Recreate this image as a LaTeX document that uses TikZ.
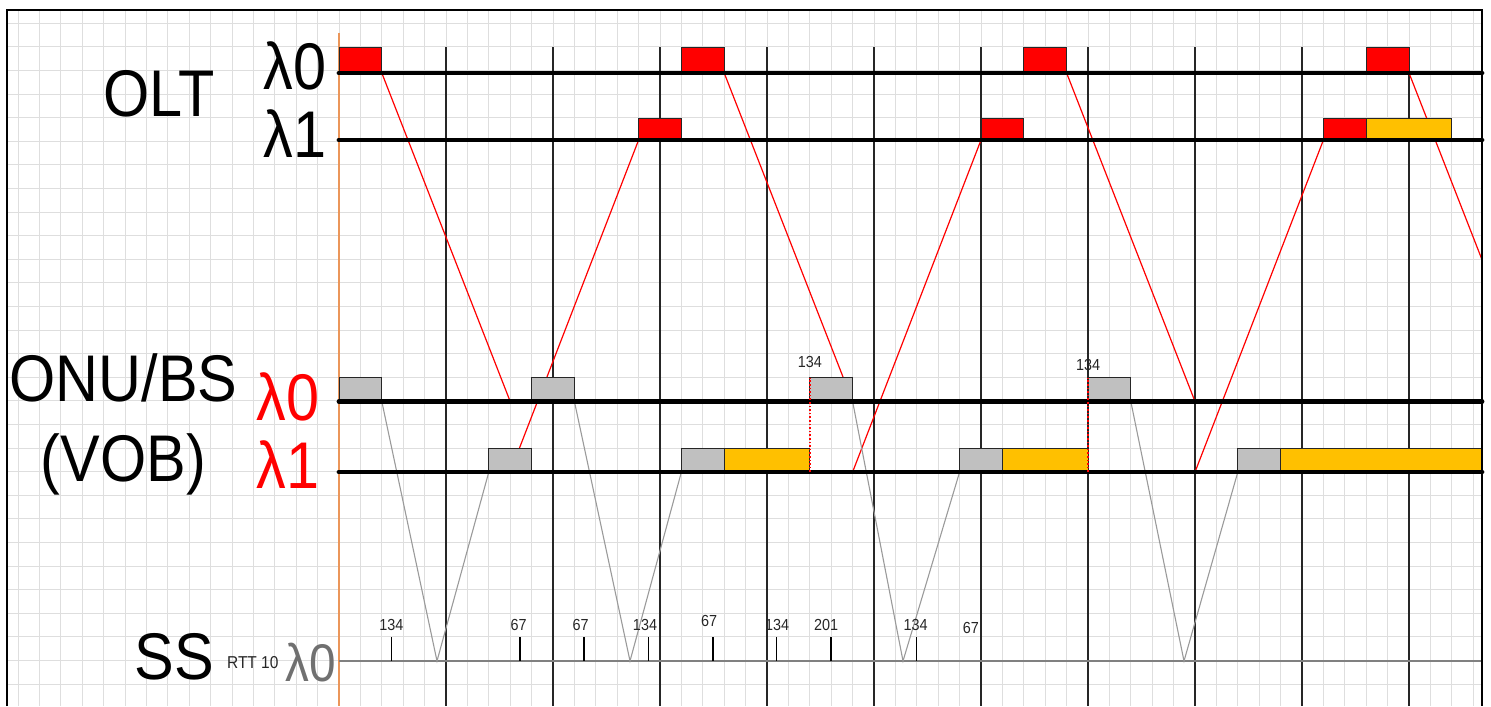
\documentclass[tikz,border=0pt]{standalone}
\usepackage{fontspec}
\setmainfont{Liberation Sans}[FakeStretch=0.9]
\usetikzlibrary{positioning}
\definecolor{slotgray}{HTML}{C0C0C0}
\definecolor{slotorange}{HTML}{FFC000}
\definecolor{gridgray}{HTML}{DEDEDE}
\definecolor{originorange}{RGB}{235,150,90}
\definecolor{airgray}{HTML}{9A9A9A}
\definecolor{ssgray}{HTML}{707070}
\pgfdeclarelayer{bg}
\pgfsetlayers{bg,main}

\begin{document}
\begin{tikzpicture}[x=0.5pt, y=-0.5pt,
  slot/.style={draw=black!85, line width=0.5pt, inner sep=0pt, outer sep=0pt, anchor=south west,
    minimum width=21.4pt, minimum height=12pt},
  grantbox/.style={slot, fill=red},
  reportbox/.style={slot, fill=slotgray},
  databox/.style={slot, fill=slotorange, minimum width=42.8pt},
  fiber/.style={line width=2.4pt, line cap=round},
  dnlink/.style={red, line width=0.6pt},
  airlink/.style={airgray, line width=0.55pt},
  biglabel/.style={inner sep=0pt, font=\fontsize{33}{36}\selectfont},
  smalllabel/.style={inner sep=0pt, anchor=base, text=black!85, font=\fontsize{8}{9}\selectfont}]
  \useasboundingbox (0,0) rectangle (1491,706);

  \foreach \j/\n in {0/a,16/b,32/c,48/d}
    \node[grantbox, minimum height=12.85pt] (o0\n) at ({339+21.4*\j},73) {};
  \foreach \j/\n in {14/a,30/b,46/c}
    \node[grantbox, minimum height=11pt] (o1\n) at ({339+21.4*\j},140) {};
  \node[databox, minimum height=11pt] (o1d) at (o1c.south east) {};
  \foreach \j/\n in {0/a,9/b,22/c,35/d}
    \node[reportbox] (n0\n) at ({339+21.4*\j},401.5) {};
  \foreach \j/\n in {7/a,16/b,29/c,42/d}
    \node[reportbox] (n1\n) at ({339+21.4*\j},472) {};
  \node[databox] (n1bd) at (n1b.south east) {};
  \node[databox] (n1cd) at (n1c.south east) {};
  \node[databox, minimum width=100.7pt] (n1dd) at (n1d.south east) {};

  \begin{pgfonlayer}{bg}
    \clip (7,10) rectangle (1482,706);
    \foreach \j in {-15,...,53}
      \draw[gridgray, line width=0.5pt] ({339+21.4*\j},10) -- ({339+21.4*\j},706);
    \foreach \k in {1,...,29}
      \draw[gridgray, line width=0.5pt] (7,{23.6*\k-0.3}) -- (1482,{23.6*\k-0.3});
    \foreach \j in {5,10,...,50}
      \draw[black!85, line width=0.8pt] ({339+21.4*\j},47) -- ({339+21.4*\j},706);
    \draw[originorange, line width=0.7pt] (339,33) -- (339,706);
    \draw[gray, line width=0.7pt] (339,661) -- (1482,661);
    \foreach \j/\n in {8/1,24/2,40/3,56/4} {
      \coordinate (d\n) at ({339+21.4*\j},401.5);
      \coordinate (u\n) at ({339+21.4*\j},472);
    }
    \draw[dnlink] (o0a.south east) -- (d1) (u1) -- (o1a.south west)
      (o0b.south east) -- (d2) (u2) -- (o1b.south west)
      (o0c.south east) -- (d3) (u3) -- (o1c.south west)
      (o0d.south east) -- (d4);
    \foreach \n/\x in {a/437,b/630,c/903,d/1184} {
      \coordinate (s\n) at (\x,661);
      \draw[airlink] (n0\n.south east) -- (s\n) -- (n1\n.south west);
    }
  \end{pgfonlayer}

  \foreach \y in {73,140,401.5,472}
    \draw[fiber] (339,\y) -- (1482,\y);

  \draw[red, densely dotted, line width=0.8pt] (n1bd.south east) -- (n0c.north west)
    node[smalllabel, above=4.5pt] (m1) {134};
  \draw[red, densely dotted, line width=0.8pt] (n1cd.south east) -- (n0d.north west)
    node[smalllabel, above=3pt] (m2) {134};

  \foreach \tx/\lx/\ly/\v [count=\i] in {391.7/391.3/630.7/134, 520/518.7/630.7/67,
      584/580.7/630.7/67, 648.3/645/630.7/134, 713/709/626.7/67, 776.6/777/630/134,
      831/826/630/201, 916.7/915.5/630/134} {
    \draw[line width=0.7pt] (\tx,637) -- (\tx,661);
    \node[smalllabel] (t\i) at (\lx,\ly) {\v};
  }
  \node[smalllabel] (t9) at (970.8,633) {67};

  \node[biglabel, anchor=base] (olt) at (159,116.5) {OLT};
  \node[biglabel, anchor=base west] (olt0) at (263,89.5) {λ0};
  \node[biglabel, anchor=base west] (olt1) at (263,157) {λ1};
  \node[biglabel, anchor=base] (onu) at (123.5,401.7) {ONU/BS};
  \node[biglabel, anchor=base] (vob) at (123.3,481.7) {(VOB)};
  \node[biglabel, anchor=base west, text=red] (onu0) at (256,420) {λ0};
  \node[biglabel, anchor=base west, text=red] (onu1) at (256,488) {λ1};
  \node[biglabel, anchor=base] (ss) at (174,679.5) {SS};
  \node[smalllabel, anchor=base west, font=\fontsize{8.6}{9}\selectfont] (rtt) at (226.7,668.3) {RTT 10};
  \node[biglabel, anchor=base west, text=ssgray, font=\fontsize{26.5}{28}\selectfont] (ss0) at (285,681) {λ0};

  \draw[line width=1.4pt] (7,706) -- (7,10) -- (1482,10) -- (1482,706);
\end{tikzpicture}
\end{document}
